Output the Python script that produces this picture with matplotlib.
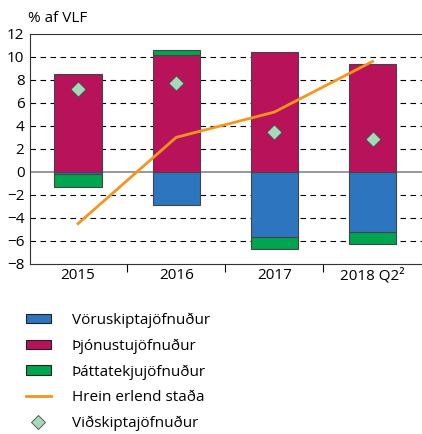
import matplotlib.pyplot as plt
import numpy as np
from matplotlib.patches import Patch
from matplotlib.lines import Line2D

plt.rcParams['font.family'] = ['Open Sans', 'DejaVu Sans']

categories = ['2015', '2016', '2017', '2018 Q2²']
voruskipti = [-0.2, -2.9, -5.7, -5.2]
thjonusta = [8.5, 10.2, 10.4, 9.4]
thattatekjur = [-1.1, 0.4, -1.0, -1.1]
hrein_stada = [-4.5, 3.0, 5.2, 9.6]
vidskipti = [7.2, 7.7, 3.5, 2.9]

c_blue = '#2E75BF'
c_red = '#B8125A'
c_green = '#00A54F'
c_orange = '#F7941D'
c_diam = '#A6D9B8'
edge = '#444444'

fig = plt.figure(figsize=(4.22, 4.34), dpi=100)
ax = fig.add_axes([0.071, 0.392, 0.935, 0.530])

x = np.arange(len(categories))
w = 0.48
pos_base = np.zeros(len(x))
neg_base = np.zeros(len(x))
for vals, col in [(voruskipti, c_blue), (thjonusta, c_red), (thattatekjur, c_green)]:
    vals = np.array(vals)
    bottoms = np.where(vals >= 0, pos_base, neg_base)
    ax.bar(x, vals, w, bottom=bottoms, color=col, edgecolor=edge, linewidth=0.8, zorder=3)
    pos_base = pos_base + np.where(vals >= 0, vals, 0)
    neg_base = neg_base + np.where(vals < 0, vals, 0)

ax.plot(x, hrein_stada, color=c_orange, lw=2, zorder=4)
ax.scatter(x, vidskipti, marker='D', s=60, color=c_diam, edgecolor=edge, linewidth=0.6, zorder=5)

ax.set_ylim(-8, 12)
ax.set_yticks(range(-8, 13, 2))
for yv in range(-6, 12, 2):
    if yv == 0:
        ax.axhline(0, color='#888888', lw=1.2, zorder=2)
    else:
        ax.axhline(yv, color='black', lw=0.8, ls=(0, (5, 4)), zorder=1)

ax.set_xlim(-0.49, 3.53)
ax.set_xticks(x)
ax.set_xticklabels(categories)
ax.set_xticks(x[:-1] + 0.5, minor=True)
ax.tick_params(axis='x', which='major', length=0, labelsize=11, pad=3)
ax.tick_params(axis='x', which='minor', length=6, width=0.8, direction='out')
ax.tick_params(axis='y', length=0, labelsize=11, pad=4)
for s in ax.spines.values():
    s.set_linewidth(0.8)
    s.set_color('#333333')

fig.text(0.066, 0.958, '% af VLF', fontsize=11, ha='left', va='center')

handles = [
    Patch(facecolor=c_blue, edgecolor='#222222', linewidth=0.8),
    Patch(facecolor=c_red, edgecolor='#222222', linewidth=0.8),
    Patch(facecolor=c_green, edgecolor='#222222', linewidth=0.8),
    Line2D([], [], color=c_orange, lw=2),
    Line2D([], [], marker='D', ls='none', markersize=7, markerfacecolor=c_diam, markeredgecolor=edge, markeredgewidth=0.6),
]
labels = ['Vöruskiptajöfnuður', 'Þjónustujöfnuður', 'Þáttatekjujöfnuður', 'Hrein erlend staða', 'Viðskiptajöfnuður']
fig.legend(handles, labels, loc='upper left', bbox_to_anchor=(0.062, 0.28), frameon=False,
           fontsize=11, handlelength=1.6, handleheight=0.6, handletextpad=1.4, labelspacing=0.7,
           borderaxespad=0, borderpad=0)

fig.savefig('out.png', dpi=100)
